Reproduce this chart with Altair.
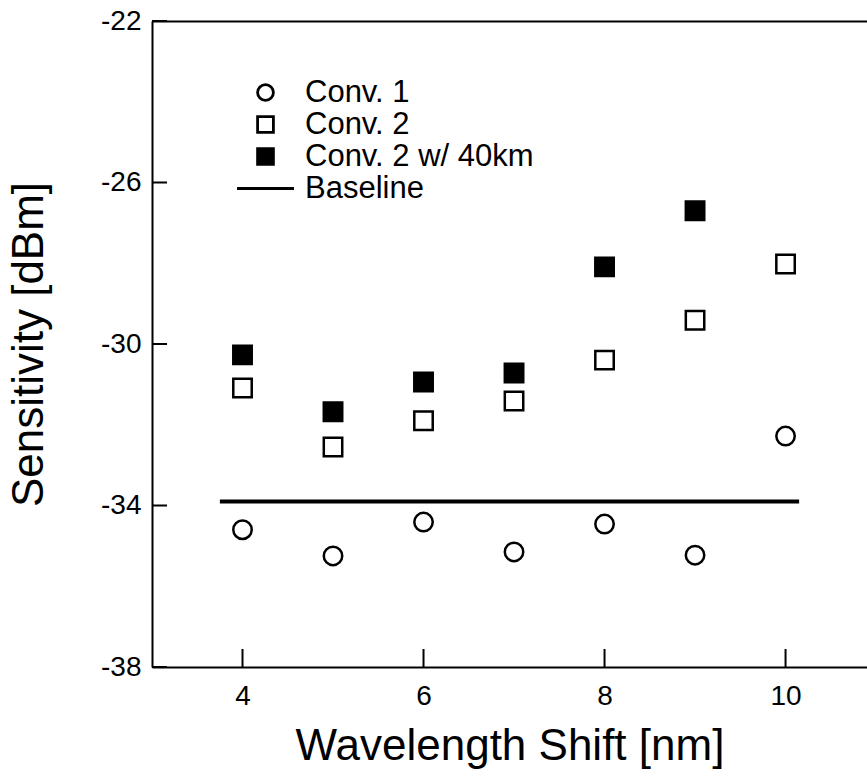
import altair as alt
import pandas as pd

# ---- data ----
shift = [4, 5, 6, 7, 8, 9, 10]
conv1 = [-34.60, -35.25, -34.41, -35.15, -34.46, -35.23, -32.28]
conv2 = [-31.09, -32.55, -31.90, -31.41, -30.40, -29.41, -28.02]
shift_40km = [4, 5, 6, 7, 8, 9]
conv2_40km = [-30.27, -31.68, -30.94, -30.72, -28.09, -26.70]
baseline_x = [3.75, 10.15]
baseline_y = [-33.9, -33.9]

series_names = ["Conv. 1", "Conv. 2", "Conv. 2 w/ 40km", "Baseline"]
x_ticks = [4, 6, 8, 10]
y_ticks = [-38, -34, -30, -26, -22]

rows = []
for x, v in zip(shift, conv1):
    rows.append({"shift": x, "sens": v, "series": series_names[0]})
for x, v in zip(shift, conv2):
    rows.append({"shift": x, "sens": v, "series": series_names[1]})
for x, v in zip(shift_40km, conv2_40km):
    rows.append({"shift": x, "sens": v, "series": series_names[2]})
pts = pd.DataFrame(rows)
base_df = pd.DataFrame({"shift": baseline_x, "sens": baseline_y})
xt_df = pd.DataFrame({"shift": x_ticks})
yt_df = pd.DataFrame({"sens": y_ticks})

FONT = "Liberation Sans"
W, H = 715, 646
xscale = alt.Scale(domain=[3, 10.9], nice=False, zero=False)
yscale = alt.Scale(domain=[-38, -22], nice=False, zero=False)

y_axis = alt.Axis(
    title="Sensitivity [dBm]", values=y_ticks, ticks=False, grid=False,
    labelExpr="toString(datum.value)", labelPadding=11, titlePadding=49,
)

leg = alt.Legend(title=None, orient="none", legendX=98, legendY=56)

points = alt.Chart(pts).mark_point(filled=False, stroke="black", strokeWidth=2.5,
                                   opacity=1, size=340).encode(
    x=alt.X("shift:Q", scale=xscale, axis=alt.Axis(
        title="Wavelength Shift [nm]", values=x_ticks, ticks=False, grid=False,
        labelExpr="toString(datum.value)", labelPadding=15, titlePadding=14)),
    y=alt.Y("sens:Q", scale=yscale, axis=y_axis),
    shape=alt.Shape("series:N", scale=alt.Scale(
        domain=series_names, range=["circle", "square", "square", "M-3.6,0H3.6"]),
        legend=leg),
    fill=alt.Fill("series:N", scale=alt.Scale(
        domain=series_names, range=["white", "white", "black", "black"]),
        legend=leg),
    stroke=alt.Stroke("series:N", scale=alt.Scale(
        domain=series_names, range=["black", "black", "black", "black"]),
        legend=leg),
)

baseline = alt.Chart(base_df).mark_line(color="black", strokeWidth=4).encode(
    x=alt.X("shift:Q", scale=xscale, axis=alt.Axis(
        orient="top", labels=False, ticks=False, title=None, grid=False)),
    y=alt.Y("sens:Q", scale=yscale, axis=y_axis),
)

xticks = alt.Chart(xt_df).mark_tick(orient="vertical", size=18, thickness=2, color="black", opacity=1).encode(
    x=alt.X("shift:Q", scale=xscale, axis=None),
    y=alt.value(H - 9),
)

yticks = alt.Chart(yt_df).mark_tick(orient="horizontal", size=15, thickness=2, color="black", opacity=1).encode(
    y=alt.Y("sens:Q", scale=yscale, axis=y_axis),
    x=alt.value(7.5),
)

chart = alt.layer(baseline, points, xticks, yticks).resolve_axis(x="independent").properties(
    width=W, height=H,
    autosize=alt.AutoSizeParams(type="none"),
    padding={"left": 152, "top": 21, "right": 0, "bottom": 109},
    background="white",
).configure_view(stroke=None).configure_axis(
    domainColor="black", domainWidth=2, labelFont=FONT, labelFontSize=28,
    labelColor="black", titleFont=FONT, titleFontSize=44, titleFontWeight="normal",
    titleColor="black",
).configure_legend(
    labelFont=FONT, labelFontSize=31, labelColor="black", symbolSize=250,
    symbolStrokeWidth=2.8, labelOffset=24,
    rowPadding=0, labelLimit=400, padding=0,
)

chart.save("out.html", embed_options={"renderer": "svg", "actions": False})
